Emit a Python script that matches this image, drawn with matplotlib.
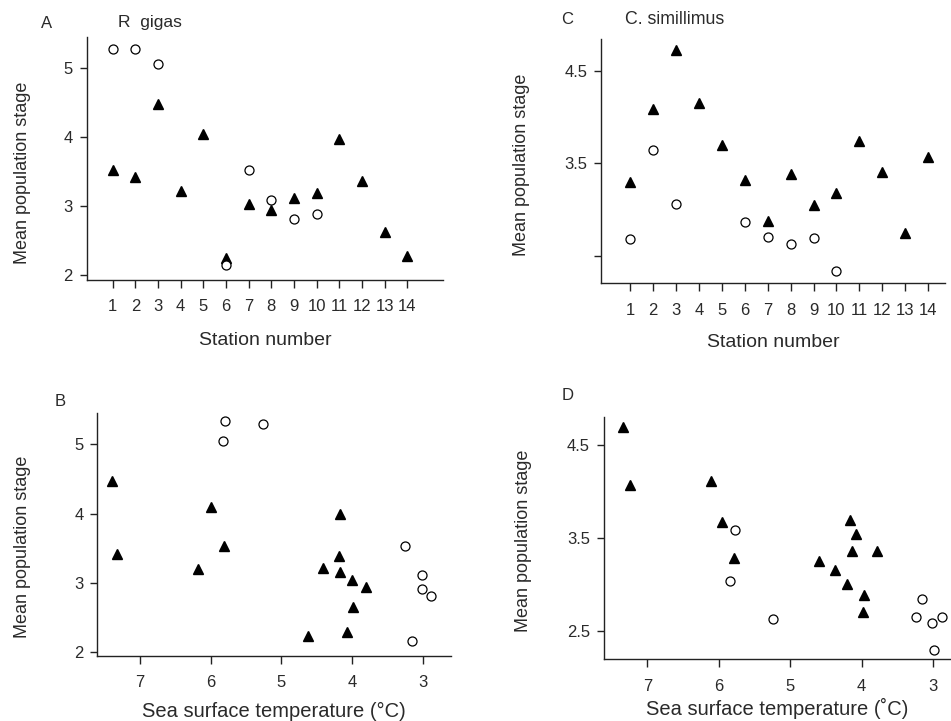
import matplotlib
matplotlib.use('Agg')
import matplotlib.pyplot as plt

plt.rcParams['font.family'] = ['Liberation Sans', 'DejaVu Sans']

# Panel A / C: stations
stations = list(range(1, 15))

# A: P. gigas vs station
a_circ_st = [1, 2, 3, 6, 7, 8, 9, 10]
a_circ_val = [5.27, 5.27, 5.05, 2.15, 3.52, 3.09, 2.81, 2.89]
a_tri_val = [3.52, 3.42, 4.47, 3.22, 4.04, 2.25, 3.03, 2.94, 3.11, 3.19, 3.97, 3.36, 2.62, 2.28]

# C: C. simillimus vs station
c_circ_st = [1, 2, 3, 6, 7, 8, 9, 10]
c_circ_val = [2.68, 3.64, 3.06, 2.86, 2.70, 2.63, 2.69, 2.33]
c_tri_val = [3.30, 4.09, 4.72, 4.15, 3.70, 3.32, 2.88, 3.38, 3.05, 3.18, 3.74, 3.40, 2.74, 3.57]

# B: P. gigas vs sea surface temperature
b_circ_t = [5.79, 5.83, 5.26, 3.25, 3.02, 3.01, 2.89, 3.16]
b_circ_val = [5.33, 5.05, 5.29, 3.53, 3.11, 2.92, 2.82, 2.17]
b_tri_t = [7.39, 7.32, 5.99, 5.81, 6.18, 4.62, 4.17, 4.18, 4.41, 4.17, 4.01, 3.80, 3.99, 4.07]
b_tri_val = [4.47, 3.42, 4.09, 3.54, 3.20, 2.24, 4.00, 3.39, 3.21, 3.16, 3.05, 2.95, 2.65, 2.29]

# D: C. simillimus vs sea surface temperature
d_circ_t = [5.77, 5.85, 5.24, 3.16, 3.24, 3.01, 2.87, 2.99]
d_circ_val = [3.59, 3.04, 2.63, 2.85, 2.66, 2.59, 2.66, 2.30]
d_tri_t = [7.34, 7.24, 6.11, 5.96, 5.79, 4.60, 4.37, 4.20, 4.17, 4.08, 4.13, 3.78, 3.97, 3.98]
d_tri_val = [4.70, 4.08, 4.12, 3.68, 3.29, 3.26, 3.16, 3.01, 3.70, 3.55, 3.36, 3.36, 2.89, 2.71]

txt = '#2a2a2a'
fig = plt.figure(figsize=(9.51, 7.21), dpi=100)

axA = fig.add_axes([0.0912, 0.6117, 0.3747, 0.3374])
axC = fig.add_axes([0.632, 0.607, 0.3617, 0.3384])
axB = fig.add_axes([0.1023, 0.0902, 0.3716, 0.337])
axD = fig.add_axes([0.635, 0.0856, 0.365, 0.3365])


def style(ax, lab_x, lab_y):
    for s in ['top', 'right']:
        ax.spines[s].set_visible(False)
    for s in ['left', 'bottom']:
        ax.spines[s].set_linewidth(1.0)
        ax.spines[s].set_color('#222222')
    ax.tick_params(axis='x', direction='out', length=6, width=1, pad=8,
                   labelsize=12, colors='#222222', labelcolor=txt)
    ax.tick_params(axis='y', direction='out', length=5, width=1, pad=5,
                   labelsize=12, colors='#222222', labelcolor=txt)
    ax.set_ylabel('Mean population stage', fontsize=13, color=txt)
    ax.yaxis.label.set_va('center')
    ax.yaxis.set_label_coords(lab_x, lab_y)


def pts(ax, cx, cy, tx, ty):
    ax.plot(tx, ty, ls='none', marker='^', ms=7.5, color='black', mec='black')
    ax.plot(cx, cy, ls='none', marker='o', ms=6.5, mfc='white', mec='black', mew=0.9)


# A
pts(axA, a_circ_st, a_circ_val, stations, a_tri_val)
style(axA, -0.179, 0.44)
axA.set_xlim(-0.15, 15.58)
axA.set_ylim(1.93, 5.45)
axA.set_xticks(stations)
axA.set_yticks([2, 3, 4, 5])
axA.set_xlabel('Station number', fontsize=14, color=txt, labelpad=13)

# C
pts(axC, c_circ_st, c_circ_val, stations, c_tri_val)
style(axC, -0.23, 0.485)
axC.set_xlim(-0.28, 14.74)
axC.set_ylim(2.2, 4.84)
axC.set_xticks(stations)
axC.set_yticks([2.5, 3.5, 4.5])
axC.set_yticklabels(['', '3.5', '4.5'])
axC.set_xlabel('Station number', fontsize=14, color=txt, labelpad=12)

# B
pts(axB, b_circ_t, b_circ_val, b_tri_t, b_tri_val)
style(axB, -0.213, 0.449)
axB.set_xlim(7.60, 2.61)
axB.set_ylim(1.95, 5.45)
axB.set_xticks([7, 6, 5, 4, 3])
axB.set_yticks([2, 3, 4, 5])
axB.set_xlabel('Sea surface temperature (°C)', fontsize=14.5, color=txt, labelpad=8)

# D
pts(axD, d_circ_t, d_circ_val, d_tri_t, d_tri_val)
style(axD, -0.233, 0.49)
axD.set_xlim(7.61, 2.75)
axD.set_ylim(2.20, 4.81)
axD.set_xticks([7, 6, 5, 4, 3])
axD.set_yticks([2.5, 3.5, 4.5])
axD.set_yticklabels(['2.5', '3.5', '4.5'])
axD.set_xlabel('Sea surface temperature (˚C)', fontsize=14.5, color=txt, labelpad=3)

# panel letters and species names
fig.text(47 / 951, 1 - 23 / 721, 'A', fontsize=12, color=txt, ha='center', va='center')
fig.text(118 / 951, 1 - 23 / 721, 'R  gigas', fontsize=12.5, color=txt, ha='left', va='center')
fig.text(567 / 951, 1 - 20 / 721, 'C', fontsize=12, color=txt, ha='center', va='center')
fig.text(625 / 951, 1 - 20 / 721, 'C. simillimus', fontsize=12.8, color=txt, ha='left', va='center')
fig.text(60 / 951, 1 - 402 / 721, 'B', fontsize=12, color=txt, ha='center', va='center')
fig.text(568 / 951, 1 - 395 / 721, 'D', fontsize=12, color=txt, ha='center', va='center')

fig.savefig('out.png', dpi=100, facecolor='white')
